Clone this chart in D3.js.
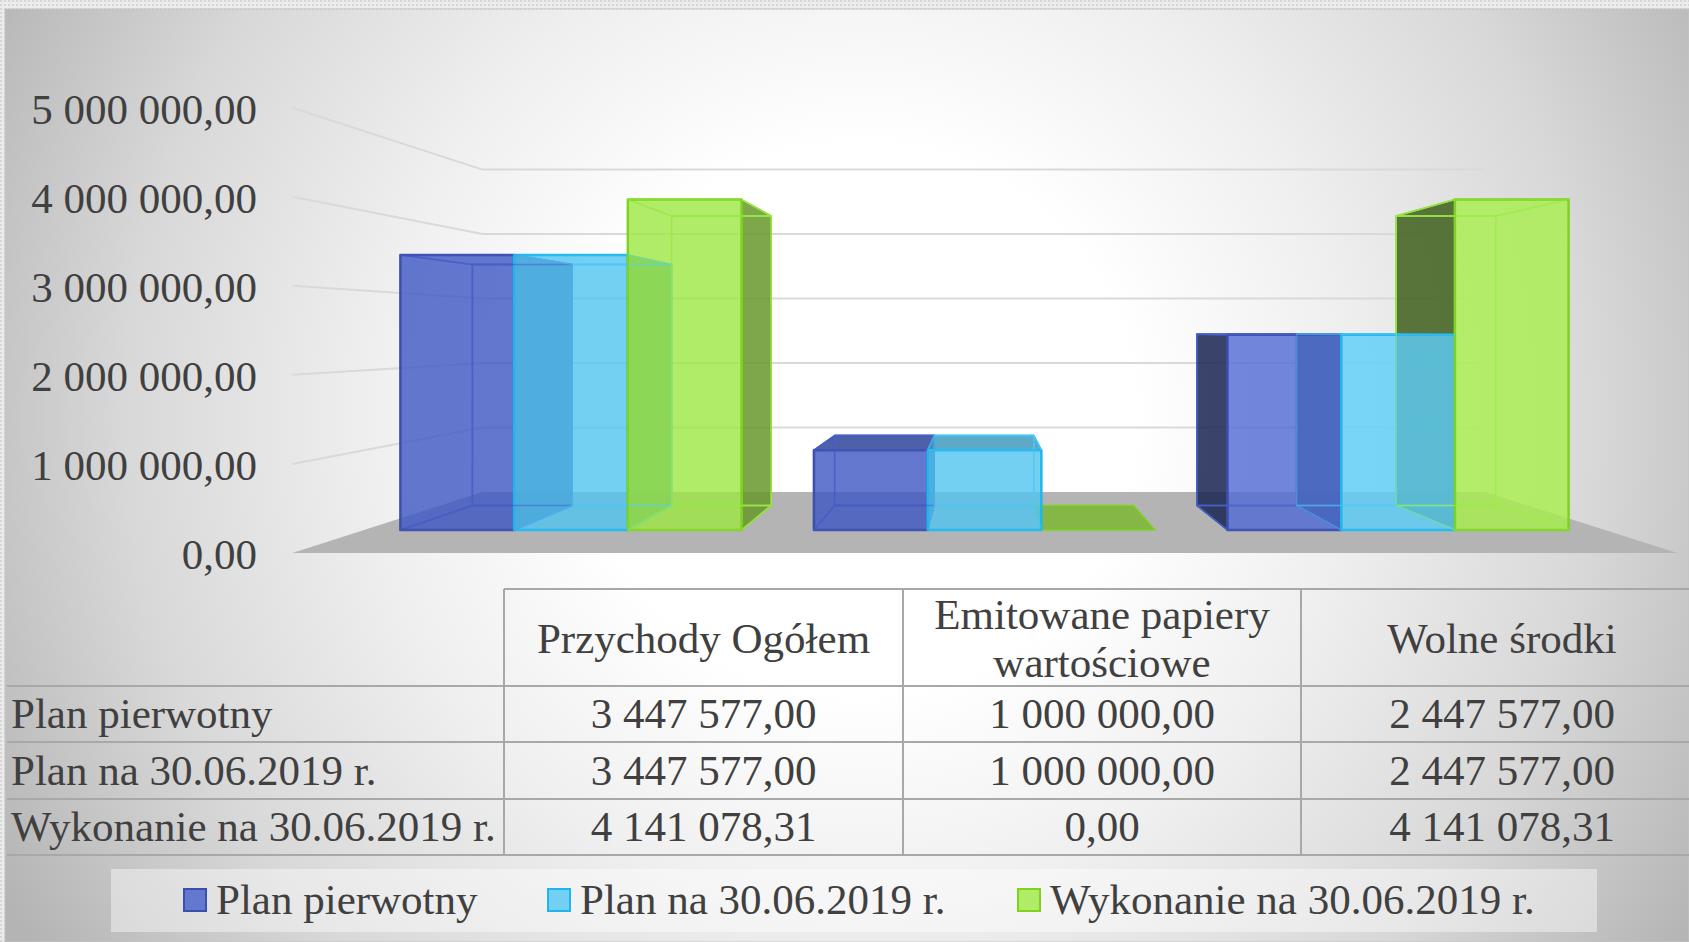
<!DOCTYPE html>
<meta charset="utf-8">
<style>
  html, body { margin: 0; padding: 0; background: #e6e6e6; overflow: hidden; }
  text { font-family: "Liberation Serif", serif; fill: #404040; }
</style>

<!-- Load d3.js -->
<script src="https://d3js.org/d3.v7.min.js"></script>

<div id="my_dataviz"></div>

<script>

// the data
var categories = ["Przychody Ogółem", "Emitowane papiery wartościowe", "Wolne środki"];
var categoryLines = [["Przychody Ogółem"], ["Emitowane papiery", "wartościowe"], ["Wolne środki"]];
var seriesNames = ["Plan pierwotny", "Plan na 30.06.2019 r.", "Wykonanie na 30.06.2019 r."];
var planPierwotny = [3447577.00, 1000000.00, 2447577.00];
var planNa = [3447577.00, 1000000.00, 2447577.00];
var wykonanie = [4141078.31, 0.00, 4141078.31];
var seriesValues = [planPierwotny, planNa, wykonanie];
var yTicks = [0, 1000000, 2000000, 3000000, 4000000, 5000000];

// the colours
var fills = ["#3d56c3", "#51c4f0", "#9ce742"];
var fillsLastGroup = ["#506ad3", "#5bcefa", "#a6ef4a"];
var edges = ["#3a50b0", "#1fb6ee", "#7ed321"];
var wires = ["#4a62c8", "#4cc8f5", "#9ae84a"];
var legendFills = ["#6478cf", "#74d0f3", "#b0ec68"];

var width = 1689, height = 942;
var fontSize = "43px";

// number format with a space and a comma, as in the table
var pl = d3.formatLocale({ decimal: ",", thousands: " ", grouping: [3], currency: ["", ""] });
var fmt = pl.format(",.2f");

// the svg
var svg = d3.select("#my_dataviz")
  .append("svg")
    .attr("width", width)
    .attr("height", height)
    .style("display", "block");

var defs = svg.append("defs");

// speckled strip round the chart
var speck = defs.append("pattern")
  .attr("id", "speck")
  .attr("patternUnits", "userSpaceOnUse")
  .attr("width", 4).attr("height", 4);
speck.append("rect").attr("width", 4).attr("height", 4).attr("fill", "#ececec");
speck.append("rect").attr("width", 2).attr("height", 2).attr("fill", "#d6d6d6");

svg.append("rect")
  .attr("width", width).attr("height", height)
  .attr("fill", "url(#speck)");

// background: radial grey to white
var grad = defs.append("radialGradient")
  .attr("id", "bg")
  .attr("gradientUnits", "userSpaceOnUse")
  .attr("cx", 860).attr("cy", 420).attr("r", 980);
[[0.28, "#ffffff"], [0.5, "#efefef"], [0.75, "#d8d8d8"], [1, "#b4b4b4"]].forEach(function(s) {
  grad.append("stop").attr("offset", s[0]).attr("stop-color", s[1]);
});

svg.append("rect")
  .attr("x", 5).attr("y", 9)
  .attr("width", width - 5).attr("height", height - 9)
  .attr("fill", "url(#bg)")
  .attr("stroke", "#c4c4c4")
  .attr("stroke-width", 1);

// 3D: everything is scaled to the front plane of the bars, then pulled to the vanishing point
var vx = 981, vy = 332;
var depthFloorFront = 1.116, depthBarFront = 1, depthBarBack = 0.876, depthWall = 0.808;

var y = d3.scaleLinear().domain([0, 5000000]).range([530, 131]);

var x0 = d3.scaleBand()
  .domain(categories)
  .range([364, 1605])
  .paddingInner(0.175)
  .paddingOuter(0.088);

var x1 = d3.scaleBand()
  .domain(seriesNames)
  .range([0, x0.bandwidth()]);

function project(px, value, s) {
  return [vx + (px - vx) * s, vy + (y(value) - vy) * s];
}

var line = d3.line();

// gridlines on the side wall and the back wall
var leftX = x0.range()[0], rightX = x0.range()[1];

svg.append("g").selectAll("path")
  .data(yTicks.slice(1))
  .enter()
  .append("path")
    .attr("d", function(d) {
      return line([project(leftX, d, depthFloorFront), project(leftX, d, depthWall), project(rightX, d, depthWall)]);
    })
    .attr("fill", "none")
    .attr("stroke", "#d9d9d9")
    .attr("stroke-width", 2);

// floor
svg.append("path")
  .attr("d", line([
    project(leftX, 0, depthFloorFront),
    project(rightX, 0, depthFloorFront),
    project(rightX, 0, depthWall),
    project(leftX, 0, depthWall)
  ]) + "Z")
  .attr("fill", "#b4b4b4");

// Y axis sits on the front edge of the side wall
var yAxisScale = d3.scaleLinear()
  .domain([0, 5000000])
  .range([project(leftX, 0, depthFloorFront)[1], project(leftX, 5000000, depthFloorFront)[1]]);

var yAxis = svg.append("g")
  .attr("transform", "translate(257,2)")
  .call(d3.axisLeft(yAxisScale).tickValues(yTicks).tickSize(0).tickPadding(0).tickFormat(fmt));
yAxis.select(".domain").remove();
yAxis.selectAll("text").style("font-size", fontSize).attr("font-family", null);

// one bar = list of its corners by face
function barFaces(cat, sIndex) {
  var left = x0(cat) + x1(seriesNames[sIndex]);
  var right = left + x1.bandwidth();
  var v = seriesValues[sIndex][categories.indexOf(cat)];
  function c(px, val, s) { return project(px, val, s); }
  return {
    left: left, right: right, v: v,
    front: [c(left, 0, depthBarFront), c(right, 0, depthBarFront), c(right, v, depthBarFront), c(left, v, depthBarFront)],
    back: [c(left, 0, depthBarBack), c(right, 0, depthBarBack), c(right, v, depthBarBack), c(left, v, depthBarBack)],
    rightSide: [c(right, 0, depthBarFront), c(right, 0, depthBarBack), c(right, v, depthBarBack), c(right, v, depthBarFront)],
    leftSide: [c(left, 0, depthBarFront), c(left, 0, depthBarBack), c(left, v, depthBarBack), c(left, v, depthBarFront)],
    top: [c(left, v, depthBarFront), c(right, v, depthBarFront), c(right, v, depthBarBack), c(left, v, depthBarBack)],
    bottom: [c(left, 0, depthBarFront), c(right, 0, depthBarFront), c(right, 0, depthBarBack), c(left, 0, depthBarBack)]
  };
}

function poly(g, pts, fill, opacity, stroke, sw, so) {
  g.append("path")
    .attr("d", line(pts) + "Z")
    .attr("fill", fill)
    .attr("fill-opacity", opacity)
    .attr("stroke", stroke)
    .attr("stroke-width", sw)
    .attr("stroke-opacity", so)
    .attr("stroke-linejoin", "round");
}

// the bars, group by group: outer faces, then the thin inner lines, then the fronts
var barLayer = svg.append("g");
categories.forEach(function(cat, groupIndex) {
  var g = barLayer.append("g");
  var bars = seriesNames.map(function(name, i) { return barFaces(cat, i); });

  bars.forEach(function(b, i) {
    var base = d3.color(fills[i]);
    if (b.right < vx) {
      poly(g, b.rightSide, base.darker(1.17), 0.85, edges[i], 1.5, 1);
    }
    if (b.left > vx) {
      poly(g, b.leftSide, base.darker(2.5), 0.85, edges[i], 1.5, 1);
    }
    // the top is only seen when it lies under the eye level
    if (project(b.left, b.v, depthBarFront)[1] > vy) {
      poly(g, b.top, base.darker(0.65), 0.85, edges[i], 1.5, 1);
    }
  });

  // faint lines, they stay over the neighbouring bars only a little
  bars.forEach(function(b, i) {
    if (b.v > 0) {
      poly(g, b.back, "none", 0, wires[i], 1.5, 0.8);
      poly(g, b.bottom, "none", 0, wires[i], 1.5, 0.8);
      poly(g, b.top, "none", 0, wires[i], 1.5, 0.8);
    }
  });

  bars.forEach(function(b, i) {
    if (b.v > 0) {
      var f = groupIndex === 2 ? fillsLastGroup[i] : fills[i];
      poly(g, b.front, f, 0.8, edges[i], 2.5, 1);
    }
  });

  bars.forEach(function(b, i) {
    if (b.v > 0) {
      poly(g, b.back, "none", 0, wires[i], 1.5, 0.35);
      poly(g, b.bottom, "none", 0, wires[i], 1.5, 0.35);
      poly(g, b.top, "none", 0, wires[i], 1.5, 0.35);
    }
  });
});

// the data table under the plot (last column runs past the picture edge)
var tableLeft = 7;
var colX = [504, 903, 1301, 1703];
var rowY = [589, 686, 742, 799, 855];
var tableColor = "#a8a8a8";

var table = svg.append("g");

table.selectAll(".hline")
  .data(rowY)
  .enter()
  .append("line")
    .attr("x1", function(d, i) { return i === 0 ? colX[0] : tableLeft; })
    .attr("x2", colX[3])
    .attr("y1", function(d) { return d; })
    .attr("y2", function(d) { return d; })
    .attr("stroke", tableColor)
    .attr("stroke-width", 2);

table.selectAll(".vline")
  .data(colX.slice(0, 3))
  .enter()
  .append("line")
    .attr("x1", function(d) { return d; })
    .attr("x2", function(d) { return d; })
    .attr("y1", rowY[0])
    .attr("y2", rowY[4])
    .attr("stroke", tableColor)
    .attr("stroke-width", 2);

// header cells
categoryLines.forEach(function(lines, c) {
  var cx = (colX[c] + colX[c + 1]) / 2;
  var cy = (rowY[0] + rowY[1]) / 2 + 1;
  lines.forEach(function(t, k) {
    table.append("text")
      .attr("x", cx)
      .attr("y", cy + (k - (lines.length - 1) / 2) * 48)
      .attr("dy", "0.33em")
      .attr("text-anchor", "middle")
      .style("font-size", fontSize)
      .text(t);
  });
});

// rows
seriesNames.forEach(function(name, r) {
  var cy = (rowY[r + 1] + rowY[r + 2]) / 2;
  table.append("text")
    .attr("x", 11)
    .attr("y", cy)
    .attr("dy", "0.33em")
    .style("font-size", fontSize)
    .text(name);
  seriesValues[r].forEach(function(v, c) {
    table.append("text")
      .attr("x", (colX[c] + colX[c + 1]) / 2)
      .attr("y", cy)
      .attr("dy", "0.33em")
      .attr("text-anchor", "middle")
      .style("font-size", fontSize)
      .text(fmt(v));
  });
});

// legend
var legendSwatchX = [184, 548, 1018];
var legend = svg.append("g");
legend.append("rect")
  .attr("x", 111).attr("y", 869)
  .attr("width", 1486).attr("height", 63)
  .attr("fill", "#ffffff")
  .attr("fill-opacity", 0.42);

seriesNames.forEach(function(name, i) {
  legend.append("rect")
    .attr("x", legendSwatchX[i]).attr("y", 889)
    .attr("width", 22).attr("height", 22)
    .attr("fill", legendFills[i])
    .attr("stroke", edges[i])
    .attr("stroke-width", 2);
  legend.append("text")
    .attr("x", legendSwatchX[i] + 32)
    .attr("y", 914)
    .style("font-size", fontSize)
    .text(name);
});

</script>
